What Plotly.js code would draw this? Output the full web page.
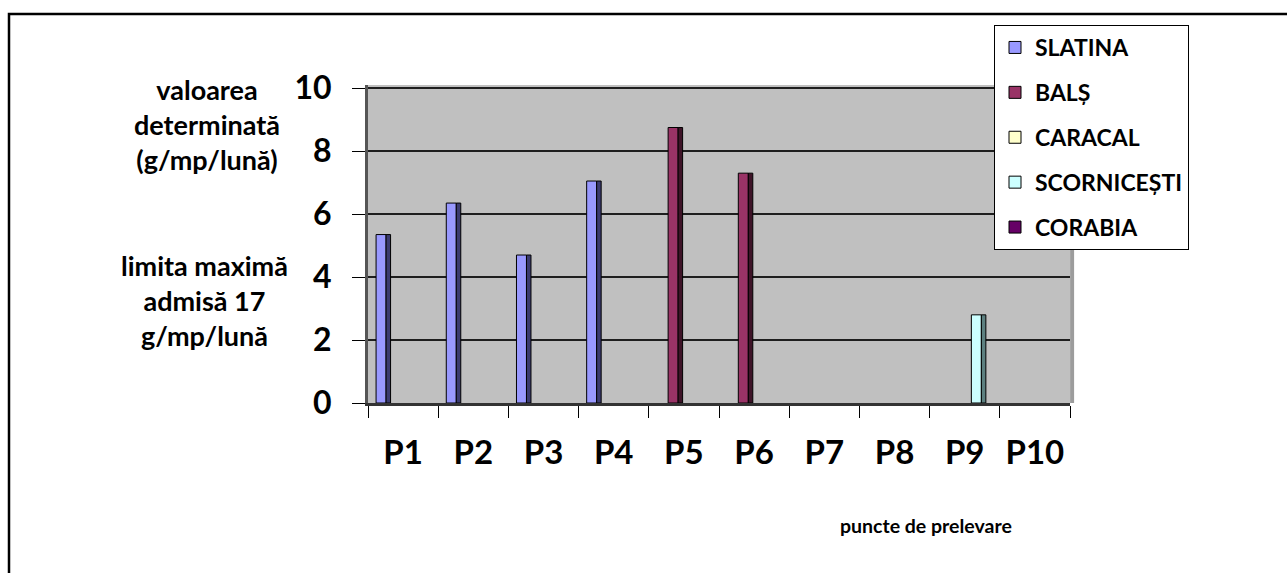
<!DOCTYPE html>
<html>
<head>
<meta charset="utf-8">
<script src="https://cdn.plot.ly/plotly-3.0.1.min.js"></script>
<style>html,body{margin:0;padding:0;background:#fff;}</style>
</head>
<body>
<div id="chart" style="width:1287px;height:573px;"></div>
<script>
// ---- data ----
const categories = ["P1","P2","P3","P4","P5","P6","P7","P8","P9","P10"];
const seriesNames = ["SLATINA","BALȘ","CARACAL","SCORNICEȘTI","CORABIA"];
const slatina     = [5.35, 6.35, 4.7, 7.05, null, null, null, null, null, null];
const bals        = [null, null, null, null, 8.75, 7.3, null, null, null, null];
const caracal     = [null, null, null, null, null, null, null, null, null, null];
const scornicesti = [null, null, null, null, null, null, null, null, 2.8, null];
const corabia     = [null, null, null, null, null, null, null, null, null, null];
const yTickVals   = [0, 2, 4, 6, 8, 10];

// ---- styles ----
const frontColors = ["#9999FF", "#993366", "#FFFFCC", "#CCFFFF", "#660066"];
const sideColors  = ["#3B3B70", "#3E1428", "#7A7A5A", "#5C8080", "#2A002A"];
const seriesValues = [slatina, bals, caracal, scornicesti, corabia];

const W = 1287, H = 573;
const L = 368, R = 217, T = 85, B = 170;
const pw = W - L - R, ph = H - T - B;
const catPx = pw / categories.length;
const px2x = p => (p - L) / pw;
const px2y = p => (H - B - p) / ph;

const fontFam = "Lato, 'Open Sans', sans-serif";
const traces = [];
const frontW = 10 / catPx, sideW = 4.5 / catPx;
seriesNames.forEach((name, i) => {
  const off = -0.385 + i * 0.16;
  traces.push({
    type: "bar", x: categories, y: seriesValues[i], name: name,
    legendgroup: name, offset: off, width: frontW,
    marker: {color: frontColors[i], line: {color: "#000", width: 1}},
    hoverinfo: "x+y+name"
  });
  traces.push({
    type: "bar", x: categories, y: seriesValues[i], name: name,
    legendgroup: name, showlegend: false, offset: off + frontW, width: sideW,
    marker: {color: sideColors[i], line: {color: "#000", width: 1}},
    hoverinfo: "skip"
  });
});

const layout = {
  width: W, height: H,
  margin: {l: L, r: R, t: T, b: B, pad: 0},
  paper_bgcolor: "#ffffff",
  plot_bgcolor: "#c0c0c0",
  barmode: "overlay",
  font: {family: fontFam, color: "#000"},
  showlegend: true,
  legend: {
    x: px2x(994), y: px2y(25), xanchor: "left", yanchor: "top",
    bgcolor: "#ffffff", bordercolor: "#000", borderwidth: 1,
    font: {family: fontFam, size: 23, weight: 700, color: "#000"},
    tracegroupgap: 12, traceorder: "grouped", itemwidth: 30
  },
  xaxis: {
    type: "category", categoryarray: categories, categoryorder: "array",
    range: [-0.5, categories.length - 0.5],
    tickson: "boundaries", ticks: "outside", ticklen: 12, tickwidth: 1, tickcolor: "#000",
    showline: true, linecolor: "#333", linewidth: 3,
    showgrid: false, zeroline: false,
    tickfont: {family: fontFam, size: 33, weight: 700, color: "#000"},
    ticklabelstandoff: 18, fixedrange: true
  },
  yaxis: {
    range: [0, 10.1], tickvals: yTickVals, ticktext: yTickVals.map(String),
    ticks: "outside", ticklen: 13, tickwidth: 1, tickcolor: "#000",
    showgrid: true, gridcolor: "#1e1e1e", gridwidth: 2,
    zeroline: false, showline: true, linecolor: "#555", linewidth: 3,
    tickfont: {family: fontFam, size: 32, weight: 700, color: "#000"},
    ticklabelstandoff: 14, fixedrange: true
  },
  annotations: [
    {xref: "paper", yref: "paper", x: px2x(207), y: px2y(124), xanchor: "center", yanchor: "middle",
     text: "valoarea<br>determinată<br>(g/mp/lună)", showarrow: false, align: "center",
     font: {family: fontFam, size: 27, weight: 700, color: "#000"}},
    {xref: "paper", yref: "paper", x: px2x(204), y: px2y(300), xanchor: "center", yanchor: "middle",
     text: "limita maximă<br>admisă 17<br>g/mp/lună", showarrow: false, align: "center",
     font: {family: fontFam, size: 27, weight: 700, color: "#000"}},
    {xref: "paper", yref: "paper", x: px2x(926), y: px2y(525), xanchor: "center", yanchor: "middle",
     text: "puncte de prelevare", showarrow: false,
     font: {family: fontFam, size: 19.5, weight: 700, color: "#000"}}
  ],
  shapes: [
    {type: "rect", xref: "paper", yref: "paper", layer: "below",
     x0: px2x(9), x1: px2x(1300), y0: px2y(14), y1: px2y(590),
     line: {color: "#000", width: 2.5}, fillcolor: "rgba(0,0,0,0)"},
    {type: "line", xref: "paper", yref: "paper", x0: 1.003, x1: 1.003, y0: 0, y1: 1,
     line: {color: "#9c9c9c", width: 4}}
  ]
};

Plotly.newPlot("chart", traces, layout, {displayModeBar: false, staticPlot: false});
</script>
</body>
</html>
